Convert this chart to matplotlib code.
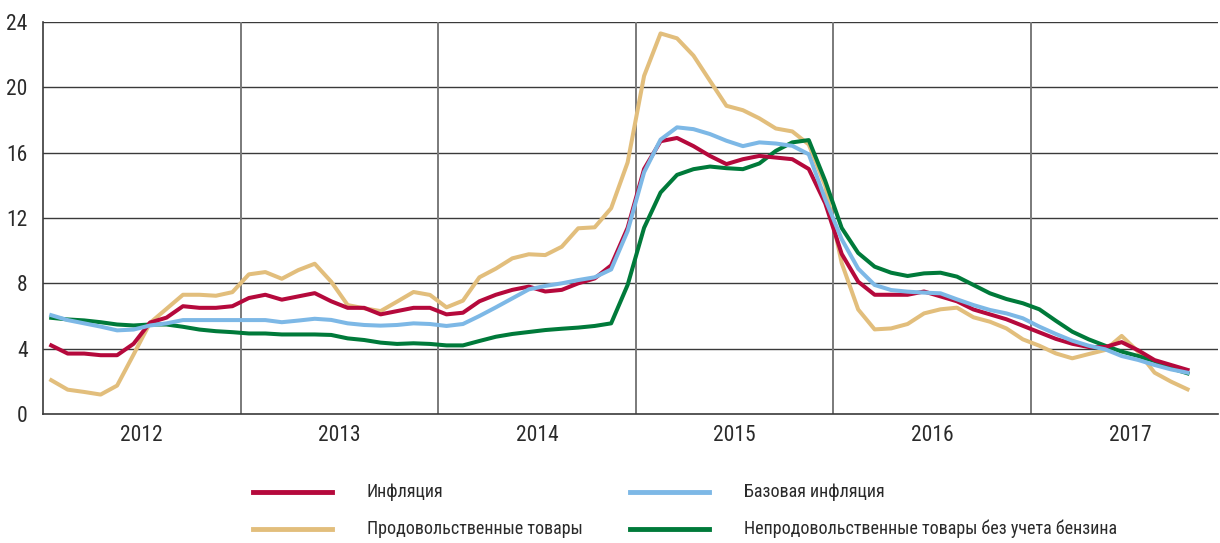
import matplotlib.pyplot as plt
from matplotlib import font_manager as fm
from matplotlib.lines import Line2D
import numpy as np

have = {f.name for f in fm.fontManager.ttflist}
narrow = [n for n in ['Roboto Condensed', 'PT Sans Narrow', 'Fira Sans Condensed',
                      'IBM Plex Sans Condensed', 'Liberation Sans Narrow'] if n in have]
plt.rcParams['font.family'] = narrow[:1] + ['DejaVu Sans']

years = ['2012', '2013', '2014', '2015', '2016', '2017']

# monthly values, Jan 2012 .. Oct 2017
infl = [4.2, 3.7, 3.7, 3.6, 3.6, 4.3, 5.6, 5.9, 6.6, 6.5, 6.5, 6.6,
        7.1, 7.3, 7.0, 7.2, 7.4, 6.9, 6.5, 6.5, 6.1, 6.3, 6.5, 6.5,
        6.1, 6.2, 6.9, 7.3, 7.6, 7.8, 7.5, 7.6, 8.0, 8.3, 9.1, 11.4,
        15.0, 16.7, 16.9, 16.4, 15.8, 15.3, 15.6, 15.8, 15.7, 15.6, 15.0, 12.9,
        9.8, 8.1, 7.3, 7.3, 7.3, 7.5, 7.2, 6.9, 6.4, 6.1, 5.8, 5.4,
        5.0, 4.6, 4.3, 4.1, 4.1, 4.4, 3.9, 3.3, 3.0, 2.7]
core = [6.05, 5.75, 5.55, 5.35, 5.12, 5.17, 5.42, 5.55, 5.75, 5.75, 5.75, 5.75,
        5.75, 5.75, 5.62, 5.72, 5.83, 5.76, 5.55, 5.45, 5.41, 5.45, 5.55, 5.51,
        5.39, 5.51, 6.0, 6.53, 7.08, 7.63, 7.84, 8.0, 8.2, 8.37, 8.85, 11.2,
        14.8, 16.8, 17.55, 17.44, 17.14, 16.73, 16.4, 16.63, 16.56, 16.42, 15.9, 13.15,
        10.7, 8.9, 7.9, 7.59, 7.49, 7.43, 7.39, 7.02, 6.67, 6.37, 6.16, 5.86,
        5.35, 4.9, 4.49, 4.18, 3.96, 3.55, 3.31, 3.0, 2.73, 2.53]
food = [2.07, 1.49, 1.35, 1.19, 1.74, 3.64, 5.58, 6.44, 7.3, 7.3, 7.24, 7.46,
        8.55, 8.69, 8.28, 8.81, 9.2, 8.1, 6.67, 6.47, 6.3, 6.88, 7.47, 7.29,
        6.53, 6.94, 8.37, 8.9, 9.53, 9.78, 9.73, 10.24, 11.37, 11.43, 12.6, 15.4,
        20.7, 23.3, 23.0, 21.94, 20.4, 18.87, 18.6, 18.1, 17.48, 17.3, 16.5, 13.97,
        9.24, 6.4, 5.18, 5.24, 5.51, 6.16, 6.41, 6.51, 5.92, 5.65, 5.24, 4.57,
        4.18, 3.71, 3.41, 3.67, 3.92, 4.78, 3.82, 2.53, 1.98, 1.51]
nonfood = [5.89, 5.79, 5.73, 5.62, 5.48, 5.42, 5.48, 5.48, 5.34, 5.17, 5.07, 5.01,
           4.93, 4.93, 4.87, 4.87, 4.87, 4.84, 4.63, 4.53, 4.37, 4.29, 4.33, 4.29,
           4.2, 4.2, 4.47, 4.73, 4.9, 5.02, 5.14, 5.22, 5.29, 5.39, 5.55, 7.9,
           11.4, 13.56, 14.64, 14.99, 15.15, 15.05, 14.99, 15.34, 16.11, 16.63, 16.77, 14.27,
           11.39, 9.86, 9.02, 8.65, 8.45, 8.61, 8.65, 8.41, 7.9, 7.39, 7.04, 6.78,
           6.41, 5.71, 5.04, 4.57, 4.18, 3.82, 3.55, 3.24, 2.8, 2.49]

labels = ['Инфляция', 'Базовая инфляция', 'Продовольственные товары',
          'Непродовольственные товары без учета бензина']
colors = ['#B5093C', '#7DB8E6', '#E2BE7C', '#007A3A']

W, H = 1220, 543
fig = plt.figure(figsize=(W/100, H/100), dpi=100)
ax = fig.add_axes([43/W, 1-414/H, 1175/W, 392/H])

x = np.arange(len(infl)) + 0.5
lw = 2.9
ax.plot(x, food, color=colors[2], lw=lw, zorder=3)
ax.plot(x, nonfood, color=colors[3], lw=lw, zorder=4)
ax.plot(x, core, color=colors[1], lw=lw, zorder=5)
ax.plot(x, infl, color=colors[0], lw=lw, zorder=4.5)

ax.set_ylim(0, 24)
ax.set_xlim(0, 71.35)
ax.set_yticks(range(0, 25, 4))
for v in range(4, 25, 4):
    ax.axhline(v, color='#3a3a3a', lw=1.0, zorder=1)
for k in range(1, len(years)):
    ax.axvline(12*k, color='#7a7a7a', lw=1.4, zorder=1)

ax.set_xticks([12*k + 6 for k in range(len(years))])
ax.set_xticklabels(years)
ax.tick_params(length=0, labelsize=15.5, colors='#2a2a2a')
ax.tick_params(axis='y', pad=11)
ax.tick_params(axis='x', pad=8)
for s in ['top', 'right']:
    ax.spines[s].set_visible(False)
for s in ['left', 'bottom']:
    ax.spines[s].set_color('#3a3a3a')
    ax.spines[s].set_linewidth(1.2)

# legend, two rows by two columns
pos = [(253, 492), (630, 492), (253, 529), (630, 529)]
for i, (px, py) in enumerate(pos):
    fig.add_artist(Line2D([px/W, (px+79)/W], [1-py/H, 1-py/H], color=colors[i], lw=3.5))
    fig.text((px+114)/W, 1-py/H, labels[i], fontsize=13, va='center', ha='left',
             color='#2a2a2a')

fig.savefig('out.png', dpi=100)
